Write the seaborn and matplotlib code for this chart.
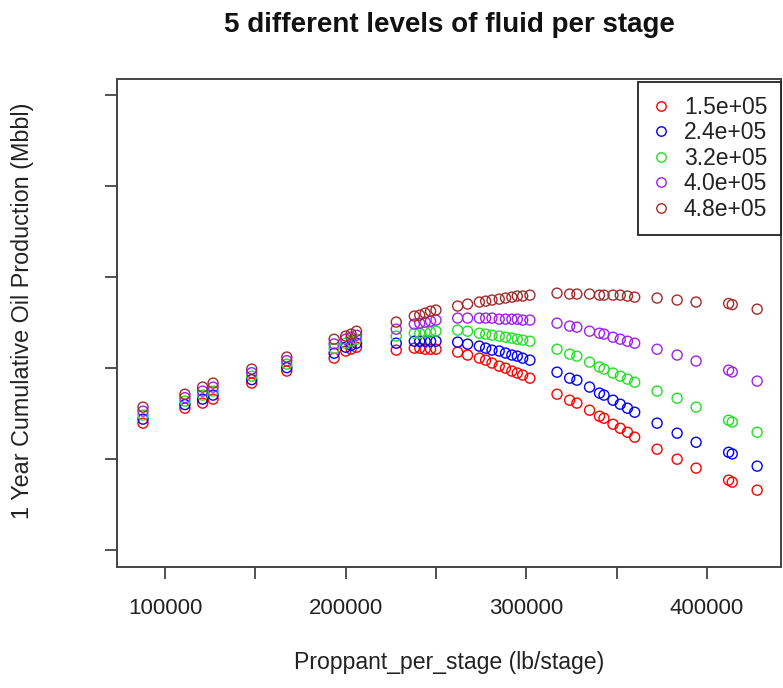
import matplotlib
matplotlib.use("Agg")
import matplotlib.pyplot as plt
from matplotlib.lines import Line2D
import seaborn as sns
import pandas as pd

# ---------------- data ----------------
fluid_levels = ["1.5e+05", "2.4e+05", "3.2e+05", "4.0e+05", "4.8e+05"]
level_colors = ["#FF0000", "#0000FF", "#22E022", "#A020F0", "#A52A2A"]

proppant = [87800, 111000, 120800, 126600, 148000, 167400, 193600, 200000, 203000, 206000, 228000,
            238000, 241000, 244000, 247000, 250000,
            262000, 267500, 274000, 277500, 281000, 285000, 288500, 292000, 295000, 298000, 302000,
            317000, 324000, 328000, 335000, 340500, 343000, 348000, 352000, 356000, 360000,
            372400, 383500, 394000, 412000, 414000, 427800]

oil_150k = [69.8, 78.0, 80.8, 83.0, 91.8, 98.4, 105.5, 109.4, 110.5, 111.5, 109.9,
            111.0, 111.0, 110.4, 110.4, 110.4,
            108.8, 107.2, 105.5, 104.4, 102.8, 101.1, 100.0, 98.4, 97.3, 96.2, 94.5,
            85.7, 82.4, 80.8, 76.9, 73.6, 72.5, 69.2, 67.0, 64.8, 62.1,
            55.5, 50.0, 45.1, 38.5, 37.4, 33.0]
oil_240k = [72.0, 80.0, 83.0, 85.2, 93.7, 100.3, 108.2, 111.5, 112.6, 113.7, 113.7,
            114.8, 114.8, 114.8, 114.8, 114.8,
            114.3, 113.2, 112.1, 111.0, 109.9, 109.4, 108.3, 107.2, 106.6, 105.5, 104.4,
            97.8, 94.5, 93.4, 89.6, 86.3, 85.2, 82.4, 80.2, 78.0, 75.8,
            69.8, 64.3, 59.3, 53.8, 52.9, 46.2]
oil_320k = [74.2, 81.9, 85.2, 87.4, 95.6, 102.2, 110.8, 113.7, 114.8, 115.9, 117.6,
            119.2, 119.2, 119.8, 119.8, 120.3,
            120.9, 120.3, 119.2, 118.7, 118.1, 117.6, 117.0, 116.5, 115.9, 115.4, 114.8,
            110.4, 107.7, 106.6, 103.3, 100.6, 99.5, 97.3, 95.6, 94.0, 92.3,
            87.4, 83.5, 78.6, 71.4, 70.4, 64.8]
oil_400k = [76.4, 83.8, 87.4, 89.6, 97.5, 104.1, 113.3, 115.9, 117.0, 118.1, 121.4,
            124.2, 124.7, 125.3, 125.8, 126.4,
            127.5, 127.5, 127.5, 127.5, 127.5, 126.9, 126.9, 126.9, 126.9, 126.4, 126.4,
            124.7, 123.1, 122.5, 120.3, 119.2, 118.7, 117.0, 115.9, 114.8, 113.7,
            110.4, 107.2, 103.9, 98.9, 97.9, 92.9]
oil_480k = [78.6, 85.7, 89.6, 91.8, 99.5, 106.1, 115.9, 117.6, 118.7, 120.3, 125.3,
            128.6, 129.1, 130.2, 131.3, 131.9,
            134.1, 135.2, 136.3, 136.8, 137.4, 137.9, 138.5, 139.0, 139.6, 139.6, 140.1,
            141.2, 140.7, 140.7, 140.7, 140.1, 140.1, 140.1, 140.1, 139.6, 139.0,
            138.5, 137.4, 136.3, 135.5, 134.9, 132.4]

x_ticks = [100000, 150000, 200000, 250000, 300000, 350000, 400000]
x_tick_labels = ["100000", "", "200000", "", "300000", "", "400000"]
y_ticks = [0, 50, 100, 150, 200, 250]

series = [oil_150k, oil_240k, oil_320k, oil_400k, oil_480k]
frames = []
for lvl, vals in zip(fluid_levels, series):
    frames.append(pd.DataFrame({"proppant": proppant, "oil": vals, "fluid": lvl}))
df = pd.concat(frames, ignore_index=True)

# ---------------- plot ----------------
sns.set_style("white")
plt.rcParams["font.family"] = ["Liberation Sans", "DejaVu Sans"]

fig = plt.figure(figsize=(7.83, 6.88), dpi=100)
ax = fig.add_axes([117 / 783, 1 - 567 / 688, (781 - 117) / 783, (567 - 79) / 688])

sns.scatterplot(data=df, x="proppant", y="oil", hue="fluid", hue_order=fluid_levels,
                palette=level_colors, s=52, linewidth=1.0, legend=False, ax=ax, zorder=3)
pc = ax.collections[0]
fc = pc.get_facecolors()
pc.set_edgecolors(fc)
pc.set_facecolors("none")
pc.set_linewidths(1.0)

ax.set_xlim(73400, 441000)
ax.set_ylim(-9.2, 258.8)
ax.set_xticks(x_ticks)
ax.set_xticklabels(x_tick_labels, fontsize=16, color="#222222")
ax.set_yticks(y_ticks)
ax.set_yticklabels([""] * len(y_ticks))
ax.tick_params(axis="both", which="major", direction="out", length=8.5, width=1.3,
               color="#444444", bottom=True, left=True, top=False, right=False)
ax.tick_params(axis="x", pad=14)

for sp in ax.spines.values():
    sp.set_visible(True)
    sp.set_color("#444444")
    sp.set_linewidth(1.4)

ax.set_xlabel("Proppant_per_stage (lb/stage)", fontsize=16.6, color="#222222")
ax.xaxis.set_label_coords(0.5, -0.196)
ax.xaxis.label.set_va("center")
ax.set_ylabel("1 Year Cumulative Oil Production (Mbbl)", fontsize=16.8, color="#222222")
ax.yaxis.label.set_va("center")
ax.yaxis.set_label_coords((23 - 117) / 664, (567 - 311) / 488)

fig.text(449 / 783, 1 - 25 / 688, "5 different levels of fluid per stage",
         fontsize=20, fontweight="bold", ha="center", va="center", color="#111111")

handles = [Line2D([], [], marker="o", ls="", mfc="none", mec=c, ms=6.8, mew=1.0)
           for c in level_colors]
leg = ax.legend(handles, fluid_levels, loc="upper right", bbox_to_anchor=(1.0, 0.994),
                borderaxespad=0.0, fontsize=16.5, frameon=True, fancybox=False,
                framealpha=1, edgecolor="#222222", handlelength=0.8, handletextpad=0.6,
                borderpad=0.6, labelspacing=0.11)
leg.get_frame().set_linewidth(1.3)
for t in leg.get_texts():
    t.set_color("#222222")

fig.savefig("out.png", dpi=100)
